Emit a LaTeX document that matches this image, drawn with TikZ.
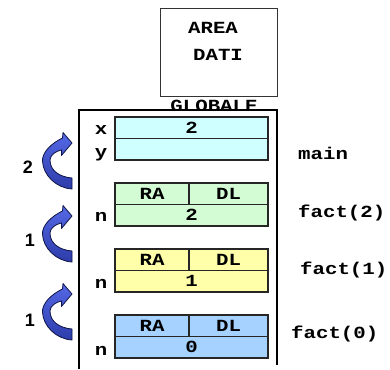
\documentclass[tikz,border=0pt]{standalone}
\usepackage{fontspec}
\newfontfamily\cmono[FakeStretch=1.22]{Liberation Mono}
\newfontfamily\csans{Liberation Sans}
\definecolor{ccyan}{RGB}{208,255,255}
\definecolor{cgreen}{RGB}{212,252,212}
\definecolor{cyellow}{RGB}{255,255,170}
\definecolor{cblue}{RGB}{166,210,255}
\definecolor{arrlight}{RGB}{85,105,230}
\definecolor{arrdark}{RGB}{45,60,170}
\definecolor{arredge}{RGB}{15,20,70}
\begin{document}
\begin{tikzpicture}[x=1pt,y=-1pt,
  mono/.style={font=\cmono\bfseries\fontsize{17}{17}\selectfont, inner sep=0pt},
  cell/.style={mono, draw=black!85, line width=1.2pt, minimum height=21.5pt},
  framel/.style={line width=2.6pt, black},
  num/.style={font=\csans\bfseries\fontsize{18}{18}\selectfont, inner sep=0pt},
  curv/.pic={
    \path[draw=arredge, line width=0.8pt, line join=round, top color=arrlight, bottom color=arrdark]
      (0,0) -- (-9,-10.5) -- (-9.5,-5)
      .. controls (-20,0) and (-30,9) .. (-29.5,18)
      .. controls (-29,32) and (-16,45) .. (0,46)
      -- (0,35)
      .. controls (-12,34) and (-22,28) .. (-22,17)
      .. controls (-22,12) and (-16,8) .. (-10.5,7)
      -- (-10.5,12.5) -- cycle;
  }]
\useasboundingbox (0,0) rectangle (390,369);
% global area
\node[draw=black!80, line width=0.9pt, minimum width=117pt, minimum height=88pt, inner sep=0pt] (area) at (218.5,52) {};
\node[mono] (areat) at (213,28) {AREA};
\node[mono] (datit) at (218,55) {DATI};
\node[mono, anchor=base] (glob) at (214,111) {GLOBALE};
% stack frame
\draw[framel, fill=white] (79,369) -- (79,110) -- (277,110) -- (277,365);
% main
\node[cell, fill=ccyan, minimum width=153pt] (mx) at (191.5,127.75) {2};
\node[cell, fill=ccyan, minimum width=153pt] (my) at (191.5,149.25) {};
\node[mono, anchor=base] (lx) at (101,134) {x};
\node[mono, anchor=base] (ly) at (101,157) {y};
% fact(2)
\node[cell, fill=cgreen, minimum width=74pt] (ra2) at (152,193.75) {RA};
\node[cell, fill=cgreen, minimum width=79pt] (dl2) at (228.5,193.75) {DL};
\node[cell, fill=cgreen, minimum width=153pt] (n2) at (191.5,215.25) {2};
\node[mono, anchor=base] (ln2) at (101,221) {n};
% fact(1)
\node[cell, fill=cyellow, minimum width=74pt] (ra1) at (152,259.75) {RA};
\node[cell, fill=cyellow, minimum width=79pt] (dl1) at (228.5,259.75) {DL};
\node[cell, fill=cyellow, minimum width=153pt] (n1) at (191.5,281.25) {1};
\node[mono, anchor=base] (ln1) at (101,288) {n};
% fact(0)
\node[cell, fill=cblue, minimum width=74pt] (ra0) at (152,325.75) {RA};
\node[cell, fill=cblue, minimum width=79pt] (dl0) at (228.5,325.75) {DL};
\node[cell, fill=cblue, minimum width=153pt] (n0) at (191.5,347.25) {0};
\node[mono, anchor=base] (ln0) at (101,355) {n};
% right labels
\node[mono, anchor=west] (lmain) at (298,153) {main};
\node[mono, anchor=west] (lf2) at (298,213) {fact(2)};
\node[mono, anchor=west] (lf1) at (300,270) {fact(1)};
\node[mono, anchor=west] (lf0) at (291,334) {fact(0)};
% curved arrows
\pic (a1) at (72,143) {curv};
\pic (a2) at (72,216) {curv};
\pic (a3) at (72,294) {curv};
\node[num] (c1) at (28,167) {2};
\node[num] (c2) at (30,240) {1};
\node[num] (c3) at (30,320) {1};
\end{tikzpicture}
\end{document}
